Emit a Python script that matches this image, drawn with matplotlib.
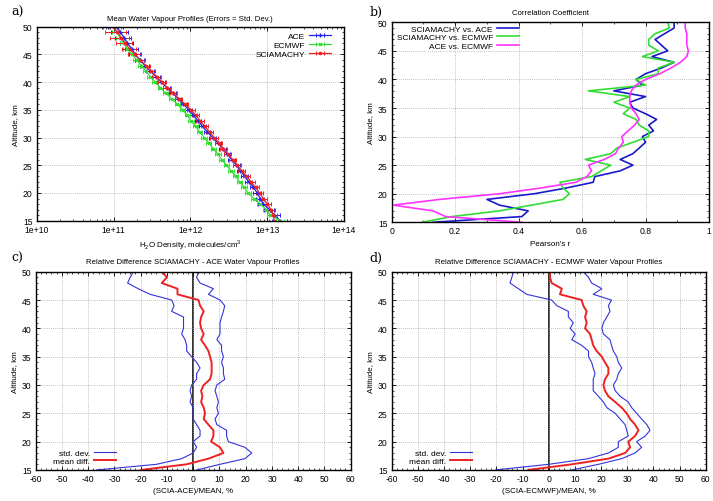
import numpy as np
import matplotlib
matplotlib.use("Agg")
import matplotlib.pyplot as plt
from matplotlib.ticker import AutoMinorLocator

plt.rcParams['font.family'] = ['Liberation Sans', 'DejaVu Sans']
plt.rcParams['mathtext.fontset'] = 'custom'
plt.rcParams['mathtext.rm'] = 'Liberation Sans'
plt.rcParams['axes.unicode_minus'] = False

# altitudes, km (50 -> 15)
alt = np.arange(50, 14, -1)

# a) mean profiles, log10 of H2O density (molecules/cm3)
ace_log = [11.04, 11.09, 11.14, 11.18, 11.24, 11.28, 11.34, 11.41, 11.48, 11.55,
           11.62, 11.69, 11.77, 11.84, 11.91, 11.98, 12.04, 12.10, 12.16, 12.22,
           12.29, 12.36, 12.42, 12.48, 12.54, 12.60, 12.65, 12.71, 12.76, 12.82,
           12.87, 12.91, 12.95, 13.03, 13.09, 13.17]
ecmwf_log = [11.00, 11.04, 11.09, 11.13, 11.18, 11.24, 11.30, 11.36, 11.42, 11.48,
             11.54, 11.61, 11.68, 11.76, 11.83, 11.90, 11.96, 12.01, 12.07, 12.12,
             12.18, 12.24, 12.30, 12.36, 12.41, 12.47, 12.53, 12.59, 12.64, 12.70,
             12.75, 12.83, 12.91, 12.99, 13.04, 13.17]
scia_log = [11.00, 11.05, 11.10, 11.15, 11.21, 11.28, 11.35, 11.42, 11.49, 11.56,
            11.63, 11.70, 11.78, 11.85, 11.93, 12.01, 12.07, 12.13, 12.19, 12.25,
            12.31, 12.37, 12.43, 12.49, 12.55, 12.61, 12.67, 12.73, 12.79, 12.85,
            12.90, 12.95, 13.00, 13.05, 13.08, 13.09]
# relative std. dev., %
ace_err = [22, 25, 24, 20, 18, 16, 14, 13, 12, 12, 11, 11, 10, 10, 10, 10, 10, 10,
           10, 10, 10, 10, 10, 10, 10, 10, 10, 10, 10, 10, 11, 12, 14, 16, 18, 22]
ecmwf_err = [12, 12, 12, 11, 11, 10, 10, 9, 9, 9, 8, 8, 8, 8, 8, 8, 8, 8,
             8, 8, 8, 8, 8, 8, 8, 8, 8, 8, 8, 8, 8, 9, 9, 10, 10, 12]
scia_err = [26, 30, 28, 24, 20, 18, 16, 14, 13, 13, 12, 12, 11, 11, 11, 11, 11, 11,
            11, 11, 11, 11, 11, 11, 11, 11, 11, 11, 11, 11, 11, 12, 12, 12, 12, 14]

# b) correlation coefficients
r_scia_ace = [0.89, 0.89, 0.86, 0.83, 0.85, 0.87, 0.82, 0.89, 0.85, 0.80,
              0.77, 0.79, 0.70, 0.80, 0.75, 0.76, 0.80, 0.835, 0.81, 0.825,
              0.79, 0.80, 0.78, 0.76, 0.72, 0.76, 0.72, 0.64, 0.635, 0.55,
              0.45, 0.30, 0.34, 0.43, 0.41, 0.13]
r_scia_ecmwf = [0.87, 0.875, 0.83, 0.81, 0.81, 0.84, 0.79, 0.89, 0.84, 0.84,
                0.77, 0.80, 0.62, 0.75, 0.70, 0.75, 0.73, 0.77, 0.78, 0.81,
                0.81, 0.76, 0.71, 0.69, 0.61, 0.69, 0.66, 0.63, 0.53, 0.54,
                0.56, 0.54, 0.44, 0.34, 0.19, 0.095]
r_ace_ecmwf = [0.925, 0.925, 0.93, 0.93, 0.93, 0.935, 0.93, 0.91, 0.88, 0.845,
               0.80, 0.77, 0.755, 0.75, 0.75, 0.755, 0.77, 0.78, 0.765, 0.745,
               0.725, 0.73, 0.715, 0.705, 0.67, 0.62, 0.63, 0.615, 0.58, 0.47,
               0.34, 0.15, 0.005, 0.13, 0.17, 0.41]

# c) SCIAMACHY - ACE relative difference, %
c_mean = [-12, -10, -12, -6, -6, 2, 2.6, 4, 3, 2.6, 3, 4, 3, 4.5, 5.8, 6.4, 7, 7,
          7, 6.4, 4, 3, 3.5, 3, 4, 4.5, 4, 5.8, 7.7, 7.7, 6.8, 10.2, 11.5, 5.8, -2.5, -20]
c_low = [-22.8, -24, -25, -21, -16.4, -8.2, -7.3, -8.2, -3.7, -3.7, -3.7, -4.4,
         -3.1, -2.5, -2.5, -0.6, 1.3, 2.6, 1.3, 1.3, -0.6, -1.2, -0.6, -1.2, 0, 0,
         0, 1.3, 2.6, 2.6, 0, 1.3, 0, -4.4, -14, -36.8]
c_high = [2, 1.3, 2.6, 7.7, 5.8, 10.2, 12, 11.5, 10.8, 10.2, 10.2, 10.2, 9, 10.8,
          10.8, 11.5, 10.8, 11.5, 11.5, 12, 9, 8.3, 9, 9.6, 9, 9.6, 8.3, 9, 12.7,
          12.7, 13.4, 19.7, 22.3, 19.7, 10.2, 1.3]

# d) SCIAMACHY - ECMWF relative difference, %
d_mean = [0.5, 0.5, 1.1, 5, 4.3, 12.6, 13.2, 14.5, 13.9, 14.5, 13.9, 15.8, 16.4,
          17, 18.3, 20.3, 21.5, 22.8, 22.8, 21.5, 20.9, 21.5, 22.8, 25.4, 27.9,
          29.8, 31.1, 33, 34.3, 33, 30.4, 31.1, 29.2, 22.8, 8.8, -7.8]
d_low = [-13.5, -14.1, -14.8, -11.6, -8.4, 1.1, 3.1, 7.5, 7.5, 9.4, 8.2, 10.1, 8.8,
         12.6, 15.2, 15.2, 16.4, 17, 17.7, 17, 17, 17, 19, 20.9, 22.2, 25.4, 27.3,
         29.2, 29.8, 30.4, 26.6, 26.6, 22.8, 15.2, 0, -20.5]
d_high = [13.2, 15.2, 16.4, 20.3, 17, 24, 22.8, 23.4, 22.2, 20.9, 20.3, 20.9, 23.4,
          24, 24.7, 26, 26.6, 27.9, 26.6, 26, 24.7, 25.4, 27.3, 30.4, 31.7, 33.6,
          35.5, 37.5, 38.7, 36.9, 33.6, 35.5, 33, 27.9, 19, 8.8]

BLUE = '#2222ee'
GREEN = '#33dd33'
RED = '#ee2222'
MAGENTA = '#ff33ff'
GRID = dict(color='#aaaaaa', linestyle=(0, (1, 1.5)), linewidth=0.6)
TICK = 6.2
TITLE = 5.6
LAB = 5.8


def style(ax, ylab='Altitude, km'):
    ax.tick_params(direction='in', top=True, right=True, labelsize=TICK,
                   length=3, width=0.6, pad=3)
    ax.tick_params(which='minor', direction='in', top=True, right=True,
                   length=1.5, width=0.5)
    ax.set_ylim(15, 50)
    ax.set_yticks(np.arange(15, 51, 5))
    ax.yaxis.set_minor_locator(AutoMinorLocator(5))
    ax.grid(True, which='major', **GRID)
    ax.set_ylabel(ylab, fontsize=LAB, labelpad=3)
    for s in ax.spines.values():
        s.set_linewidth(1.0)


fig = plt.figure(figsize=(7.13, 5.02), dpi=100)
axa = fig.add_axes([0.0515, 0.5584, 0.4310, 0.3864])
axb = fig.add_axes([0.5494, 0.5552, 0.4450, 0.3984])
axc = fig.add_axes([0.0501, 0.0618, 0.4418, 0.3950])
axd = fig.add_axes([0.5494, 0.0618, 0.4404, 0.3950])

# ---- a) mean profiles
for logs, err, col, mk, ms, lab in [
        (ace_log, ace_err, BLUE, '+', 2.5, 'ACE'),
        (ecmwf_log, ecmwf_err, GREEN, 'x', 2.0, 'ECMWF'),
        (scia_log, scia_err, RED, 's', 1.7, 'SCIAMACHY')]:
    dens = 10 ** np.array(logs)
    axa.errorbar(dens, alt, xerr=dens * np.array(err) / 100.0, color=col,
                 marker=mk, ms=ms, lw=0.9, elinewidth=0.7, capsize=1.6,
                 capthick=0.7, label=lab)
axa.set_xscale('log')
axa.set_xlim(1e10, 1e14)
style(axa)
axa.set_xticks([1e10, 1e11, 1e12, 1e13, 1e14])
axa.set_xticklabels(['1e+10', '1e+11', '1e+12', '1e+13', '1e+14'])
axa.set_xlabel('H$_2$O Density, molecules/cm$^3$', fontsize=LAB, labelpad=2)
axa.set_title('Mean Water Vapour Profiles (Errors = Std. Dev.)', fontsize=TITLE, pad=5)
axa.legend(loc='upper right', frameon=False, fontsize=6, markerfirst=False,
           handlelength=2.6, borderaxespad=0.3, labelspacing=0.1, handletextpad=0.5,
           bbox_to_anchor=(0.975, 1.0))

# ---- b) correlation
axb.plot(r_scia_ace, alt, color='#1a1acc', lw=1.2, label='SCIAMACHY vs. ACE')
axb.plot(r_scia_ecmwf, alt, color=GREEN, lw=1.2, label='SCIAMACHY vs. ECMWF')
axb.plot(r_ace_ecmwf, alt, color=MAGENTA, lw=1.2, label='ACE vs. ECMWF')
axb.set_xlim(0, 1)
axb.set_xticks([0, 0.2, 0.4, 0.6, 0.8, 1])
axb.set_xticklabels(['0', '0.2', '0.4', '0.6', '0.8', '1'])
axb.xaxis.set_minor_locator(AutoMinorLocator(2))
style(axb)
axb.set_xlabel("Pearson's r", fontsize=LAB, labelpad=3)
axb.set_title('Correlation Coefficient', fontsize=TITLE, pad=6)
axb.legend(loc='upper left', frameon=False, fontsize=6, markerfirst=False,
           handlelength=2.6, borderaxespad=0.2, labelspacing=0.05,
           handletextpad=0.5, bbox_to_anchor=(0.0, 1.01))

# ---- c) and d) relative differences
for ax, mean, low, high, xl, tt in [
        (axc, c_mean, c_low, c_high, '(SCIA-ACE)/MEAN, %',
         'Relative Difference SCIAMACHY - ACE Water Vapour Profiles'),
        (axd, d_mean, d_low, d_high, '(SCIA-ECMWF)/MEAN, %',
         'Relative Difference SCIAMACHY - ECMWF Water Vapour Profiles')]:
    ax.axvline(0, color='#222222', lw=1.3, zorder=1)
    ax.plot(low, alt, color='#3333dd', lw=0.8, label='std. dev.')
    ax.plot(high, alt, color='#3333dd', lw=0.8)
    ax.plot(mean, alt, color=RED, lw=1.4, label='mean diff.')
    ax.set_xlim(-60, 60)
    ax.set_xticks(np.arange(-60, 61, 10))
    ax.xaxis.set_minor_locator(AutoMinorLocator(5))
    style(ax)
    ax.set_xlabel(xl, fontsize=LAB, labelpad=3)
    ax.set_title(tt, fontsize=TITLE, pad=6)
    ax.legend(loc='lower left', frameon=False, fontsize=6, markerfirst=False,
              handlelength=2.6, borderaxespad=0.2, labelspacing=0.05,
              handletextpad=0.5, bbox_to_anchor=(0.04, 0.0))

# panel letters
for x, y, t in [(0.016, 0.975, 'a)'), (0.518, 0.975, 'b)'),
                (0.016, 0.485, 'c)'), (0.518, 0.485, 'd)')]:
    fig.text(x, y, t, fontsize=9, family='DejaVu Serif', va='center')

fig.savefig('out.png', dpi=100)
